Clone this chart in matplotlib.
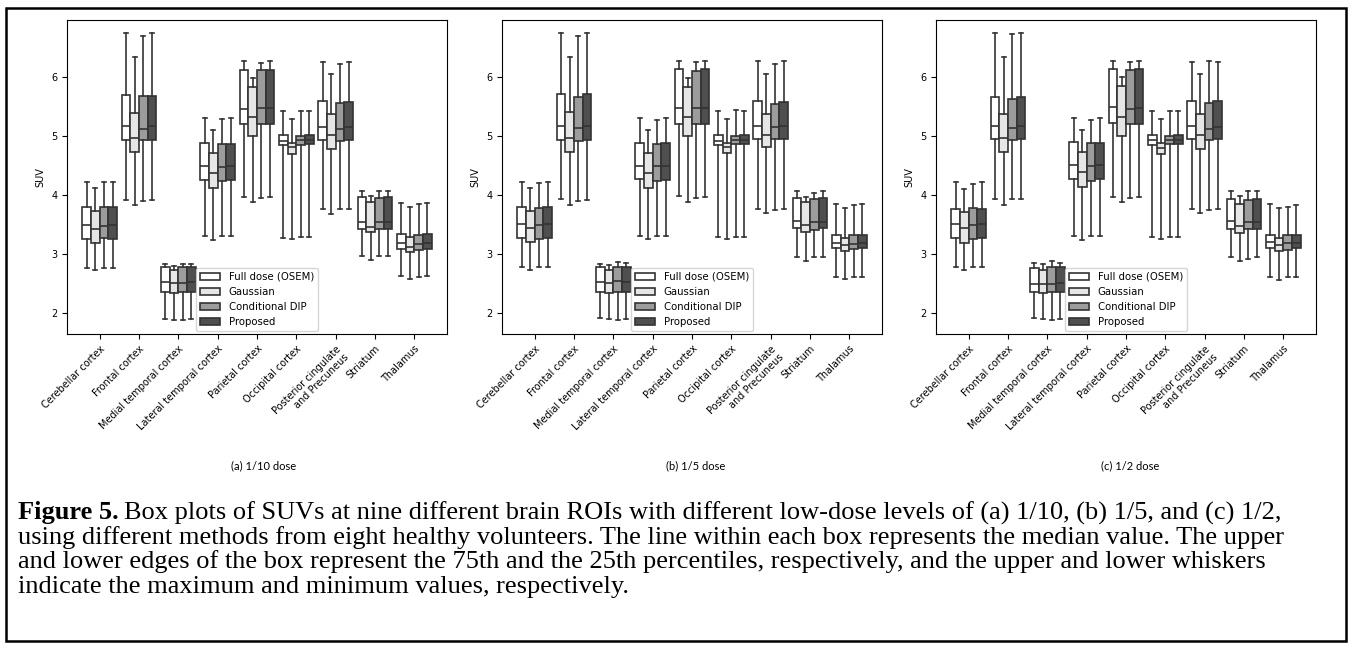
import matplotlib
matplotlib.use("Agg")
import matplotlib.pyplot as plt
from matplotlib.patches import Patch, Rectangle

rois = ["Cerebellar cortex", "Frontal cortex", "Medial temporal cortex",
        "Lateral temporal cortex", "Parietal cortex", "Occipital cortex",
        "Posterior cingulate\nand Precuneus", "Striatum", "Thalamus"]
methods = ["Full dose (OSEM)", "Gaussian", "Conditional DIP", "Proposed"]
colors = ["#ffffff", "#e6e6e6", "#9c9c9c", "#4f4f4f"]
panel_titles = ["(a) 1/10 dose", "(b) 1/5 dose", "(c) 1/2 dose"]

# rows = ROI, columns = method (full dose, gaussian, cond. DIP, proposed)
# (a) 1/10 dose
a_max = [[4.23, 4.12, 4.22, 4.23], [6.75, 6.35, 6.70, 6.75], [2.83, 2.81, 2.84, 2.84],
         [5.31, 5.10, 5.30, 5.31], [6.27, 5.99, 6.24, 6.27], [5.42, 5.29, 5.43, 5.42],
         [6.25, 6.05, 6.23, 6.25], [4.08, 3.98, 4.07, 4.08], [3.87, 3.80, 3.85, 3.87]]
a_q3 = [[3.80, 3.74, 3.80, 3.80], [5.70, 5.40, 5.68, 5.69], [2.78, 2.73, 2.79, 2.78],
        [4.88, 4.71, 4.87, 4.87], [6.13, 5.83, 6.12, 6.12], [5.03, 4.88, 5.01, 5.03],
        [5.59, 5.38, 5.56, 5.58], [3.97, 3.89, 3.95, 3.97], [3.34, 3.29, 3.33, 3.34]]
a_med = [[3.50, 3.43, 3.48, 3.50], [5.17, 4.97, 5.12, 5.17], [2.53, 2.52, 2.51, 2.53],
         [4.49, 4.38, 4.48, 4.49], [5.47, 5.32, 5.48, 5.48], [4.92, 4.82, 4.93, 4.93],
         [5.16, 5.03, 5.13, 5.15], [3.55, 3.47, 3.54, 3.54], [3.19, 3.13, 3.18, 3.19]]
a_q1 = [[3.26, 3.19, 3.27, 3.26], [4.94, 4.73, 4.94, 4.94], [2.37, 2.35, 2.36, 2.36],
        [4.26, 4.12, 4.24, 4.26], [5.21, 5.00, 5.20, 5.21], [4.86, 4.70, 4.86, 4.87],
        [4.94, 4.79, 4.92, 4.93], [3.43, 3.37, 3.43, 3.43], [3.09, 3.04, 3.08, 3.09]]
a_min = [[2.77, 2.73, 2.77, 2.77], [3.92, 3.83, 3.90, 3.92], [1.90, 1.89, 1.89, 1.90],
         [3.31, 3.25, 3.31, 3.31], [3.97, 3.89, 3.96, 3.97], [3.28, 3.26, 3.30, 3.29],
         [3.76, 3.69, 3.76, 3.76], [2.97, 2.91, 2.98, 2.97], [2.63, 2.59, 2.62, 2.63]]

# (b) 1/5 dose
b_max = [[4.23, 4.12, 4.20, 4.23], [6.75, 6.35, 6.70, 6.75], [2.84, 2.82, 2.87, 2.86],
         [5.31, 5.10, 5.28, 5.31], [6.27, 5.99, 6.25, 6.27], [5.42, 5.30, 5.44, 5.43],
         [6.27, 6.06, 6.23, 6.27], [4.07, 3.97, 4.04, 4.07], [3.85, 3.79, 3.83, 3.85]]
b_q3 = [[3.80, 3.73, 3.79, 3.80], [5.71, 5.41, 5.67, 5.71], [2.78, 2.74, 2.78, 2.79],
        [4.88, 4.72, 4.87, 4.88], [6.14, 5.84, 6.11, 6.14], [5.03, 4.88, 5.01, 5.03],
        [5.59, 5.37, 5.55, 5.58], [3.95, 3.88, 3.93, 3.95], [3.32, 3.27, 3.33, 3.33]]
b_med = [[3.51, 3.44, 3.49, 3.51], [5.18, 4.97, 5.14, 5.18], [2.53, 2.52, 2.54, 2.53],
         [4.50, 4.38, 4.49, 4.50], [5.48, 5.32, 5.48, 5.48], [4.92, 4.81, 4.93, 4.93],
         [5.17, 5.03, 5.16, 5.17], [3.56, 3.49, 3.55, 3.55], [3.20, 3.15, 3.18, 3.19]]
b_q1 = [[3.27, 3.21, 3.26, 3.27], [4.93, 4.74, 4.92, 4.93], [2.36, 2.34, 2.37, 2.36],
        [4.27, 4.13, 4.24, 4.26], [5.21, 5.00, 5.20, 5.21], [4.86, 4.71, 4.87, 4.87],
        [4.96, 4.81, 4.96, 4.96], [3.45, 3.38, 3.42, 3.44], [3.10, 3.05, 3.09, 3.10]]
b_min = [[2.78, 2.74, 2.79, 2.78], [3.93, 3.84, 3.91, 3.92], [1.92, 1.90, 1.89, 1.90],
         [3.31, 3.26, 3.31, 3.31], [3.98, 3.89, 3.96, 3.97], [3.29, 3.26, 3.29, 3.29],
         [3.76, 3.70, 3.75, 3.76], [2.95, 2.88, 2.95, 2.95], [2.62, 2.58, 2.62, 2.62]]

# (c) 1/2 dose
c_max = [[4.22, 4.11, 4.19, 4.22], [6.75, 6.35, 6.73, 6.75], [2.85, 2.83, 2.88, 2.86],
         [5.31, 5.10, 5.28, 5.31], [6.28, 6.01, 6.25, 6.27], [5.43, 5.30, 5.43, 5.43],
         [6.25, 6.05, 6.27, 6.25], [4.08, 3.98, 4.07, 4.08], [3.85, 3.79, 3.81, 3.84]]
c_q3 = [[3.77, 3.72, 3.78, 3.77], [5.67, 5.38, 5.64, 5.67], [2.77, 2.73, 2.78, 2.78],
        [4.90, 4.73, 4.88, 4.89], [6.14, 5.85, 6.13, 6.14], [5.03, 4.88, 5.01, 5.02],
        [5.60, 5.38, 5.57, 5.59], [3.93, 3.86, 3.92, 3.93], [3.32, 3.27, 3.32, 3.33]]
c_med = [[3.51, 3.44, 3.49, 3.51], [5.18, 4.97, 5.14, 5.17], [2.50, 2.50, 2.50, 2.51],
         [4.52, 4.39, 4.50, 4.51], [5.49, 5.33, 5.47, 5.48], [4.93, 4.80, 4.93, 4.93],
         [5.17, 5.03, 5.13, 5.16], [3.56, 3.48, 3.55, 3.55], [3.21, 3.16, 3.19, 3.20]]
c_q1 = [[3.28, 3.20, 3.26, 3.27], [4.95, 4.73, 4.94, 4.95], [2.36, 2.35, 2.36, 2.36],
        [4.28, 4.14, 4.25, 4.28], [5.22, 5.00, 5.20, 5.21], [4.86, 4.70, 4.87, 4.87],
        [4.95, 4.79, 4.94, 4.95], [3.43, 3.36, 3.43, 3.43], [3.10, 3.05, 3.08, 3.10]]
c_min = [[2.79, 2.74, 2.79, 2.79], [3.93, 3.83, 3.93, 3.93], [1.92, 1.90, 1.89, 1.90],
         [3.31, 3.25, 3.31, 3.31], [3.97, 3.89, 3.96, 3.97], [3.29, 3.26, 3.29, 3.29],
         [3.77, 3.70, 3.75, 3.76], [2.95, 2.88, 2.92, 2.95], [2.61, 2.57, 2.61, 2.61]]

panels = [(a_max, a_q3, a_med, a_q1, a_min),
          (b_max, b_q3, b_med, b_q1, b_min),
          (c_max, c_q3, c_med, c_q1, c_min)]

caption_lines = [
    "Box plots of SUVs at nine different brain ROIs with different low-dose levels of (a) 1/10, (b) 1/5, and (c) 1/2,",
    "using different methods from eight healthy volunteers. The line within each box represents the median value. The upper",
    "and lower edges of the box represent the 75th and the 25th percentiles, respectively, and the upper and lower whiskers",
    "indicate the maximum and minimum values, respectively.",
]

W, H = 1352, 652
fig = plt.figure(figsize=(W / 100, H / 100), dpi=100)
line_col = "#333333"
box_w = 0.22
fs = 7

ax_left = [67, 502, 936]
title_x = [264, 696, 1130]
for p, (vmax, q3, med, q1, vmin) in enumerate(panels):
    ax = fig.add_axes([ax_left[p] / W, (H - 334) / H, 380 / W, 314 / H])
    for j in range(len(methods)):
        stats = []
        pos = []
        for i in range(len(rois)):
            stats.append({"whislo": vmin[i][j], "q1": q1[i][j], "med": med[i][j],
                          "q3": q3[i][j], "whishi": vmax[i][j], "fliers": []})
            pos.append(i + (j - 1.5) * box_w)
        ax.bxp(stats, positions=pos, widths=box_w * 0.98, patch_artist=True,
               showfliers=False, manage_ticks=False,
               boxprops=dict(facecolor=colors[j], edgecolor=line_col, linewidth=1.2),
               medianprops=dict(color=line_col, linewidth=1.2),
               whiskerprops=dict(color=line_col, linewidth=1.2),
               capprops=dict(color=line_col, linewidth=1.2))
    ax.set_xlim(-0.83, 8.83)
    ax.set_ylim(1.65, 6.97)
    ax.set_xticks(range(len(rois)))
    ax.set_xticklabels(rois, rotation=45, ha="right", rotation_mode="anchor", fontsize=fs)
    ax.set_yticks([2, 3, 4, 5, 6])
    ax.tick_params(axis="y", labelsize=fs)
    ax.set_ylabel("SUV", fontsize=fs)
    handles = [Patch(facecolor=colors[j], edgecolor=line_col, linewidth=1.2, label=methods[j])
               for j in range(len(methods))]
    ax.legend(handles=handles, loc="lower center", fontsize=7.3, borderaxespad=0.3)
    fig.text(title_x[p] / W, 1 - 466 / H, panel_titles[p], ha="center", va="center",
             fontsize=8, family="Lato")

# caption
renderer = fig.canvas.get_renderer()
cap_fs = 19
cap_y = [513, 538, 562, 587]
bold = fig.text(18 / W, 1 - cap_y[0] / H, "Figure 5.", fontsize=cap_fs, weight="bold",
                family="Liberation Serif", va="center")
bb = bold.get_window_extent(renderer)
fig.text(bb.x1 / W + 5 / W, 1 - cap_y[0] / H, caption_lines[0], fontsize=cap_fs,
         family="Liberation Serif", va="center")
for k in range(1, 4):
    fig.text(18 / W, 1 - cap_y[k] / H, caption_lines[k], fontsize=cap_fs,
             family="Liberation Serif", va="center")

# outer frame
fig.patches.append(Rectangle((6 / W, 1 - 641 / H), 1340 / W, 633 / H, transform=fig.transFigure,
                             fill=False, edgecolor="black", linewidth=1.8))

fig.savefig("out.png", dpi=100)
